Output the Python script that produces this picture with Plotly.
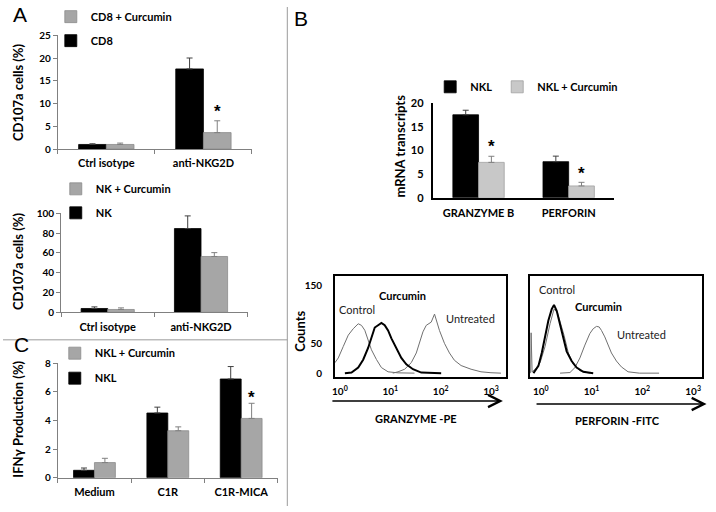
import plotly.graph_objects as go

W, H = 716, 512

# ---------------- data ----------------
a1_cats = ["Ctrl isotype", "anti-NKG2D"]
a1_cd8 = [1.0, 17.6]
a1_cd8_err = [0.15, 2.4]
a1_cur = [1.0, 3.6]
a1_cur_err = [0.3, 2.6]

a2_cats = ["Ctrl isotype", "anti-NKG2D"]
a2_nk = [3.9, 84.6]
a2_nk_err = [1.6, 12.8]
a2_cur = [2.9, 56.4]
a2_cur_err = [1.6, 3.9]

c_cats = ["Medium", "C1R", "C1R-MICA"]
c_nkl = [0.52, 4.53, 6.91]
c_nkl_err = [0.16, 0.41, 0.87]
c_cur = [1.06, 3.29, 4.15]
c_cur_err = [0.30, 0.27, 1.06]

b_cats = ["GRANZYME B", "PERFORIN"]
b_nkl = [17.6, 7.65]
b_nkl_err = [0.97, 1.18]
b_cur = [7.5, 2.5]
b_cur_err = [1.3, 0.77]

# histograms: log10 fluorescence, counts
gz_ctrl_log = [-0.099, -0.032, 0.067, 0.166, 0.265, 0.364, 0.429, 0.494, 0.56, 0.626, 0.725, 0.824, 0.956, 1.154, 1.48]
gz_ctrl_cnt = [17.8, 26, 45.6, 65, 76, 84.5, 81.7, 73.4, 56.7, 40, 23.4, 9.5, 2.3, 0.5, 0]
gz_cur_log = [0.099, 0.231, 0.364, 0.462, 0.56, 0.626, 0.692, 0.758, 0.824, 0.889, 0.956, 1.022, 1.12, 1.219, 1.318, 1.45, 1.615, 1.81, 2.01]
gz_cur_cnt = [0, 1, 9.5, 23, 43, 62, 78, 82, 86, 82, 73, 59.5, 43, 26, 15, 6.7, 1, 0, 0]
gz_unt_log = [1.05, 1.154, 1.285, 1.417, 1.516, 1.581, 1.648, 1.713, 1.812, 1.878, 1.911, 1.976, 2.075, 2.174, 2.273, 2.405, 2.603, 2.8, 2.998, 3.196]
gz_unt_cnt = [0, 2.3, 6.7, 18, 34.5, 51, 70.6, 81.7, 87.3, 101, 90, 73, 51, 34.5, 22, 13, 6.7, 2.3, 0.7, 0]

pf_ctrl_log = [-0.2, -0.19, -0.17, -0.111, -0.013, 0.085, 0.183, 0.261, 0.327, 0.379, 0.458, 0.543, 0.641, 0.771, 0.967]
pf_ctrl_cnt = [0, 69, 2, 6.7, 17.8, 45.6, 84.5, 109.5, 104, 90, 65, 34.5, 15, 4, 0]
pf_cur_log = [-0.144, -0.046, 0.02, 0.085, 0.15, 0.216, 0.261, 0.314, 0.379, 0.444, 0.51, 0.608, 0.706, 0.837, 1.033]
pf_cur_cnt = [0, 12.3, 34.5, 62, 90, 109.5, 116.7, 106.7, 84.5, 59.5, 37.3, 20.7, 9.5, 2.3, 0]
pf_unt_log = [0.38, 0.575, 0.673, 0.771, 0.869, 0.967, 1.033, 1.098, 1.15, 1.196, 1.261, 1.327, 1.392, 1.49, 1.588, 1.719, 1.941, 2.33]
pf_unt_cnt = [0, 1, 9.5, 26, 48, 67.8, 76, 80, 79, 73, 62, 48, 34.5, 20.7, 10.7, 2.3, 0, 0]

hist_ticks = [0, 50, 150]
decade_vals = [1, 10, 100, 1000]
decade_text = ["10<sup>0</sup>", "10<sup>1</sup>", "10<sup>2</sup>", "10<sup>3</sup>"]

# ---------------- style ----------------
FONT = "Lato"
BLACK = "#000000"
GRAY = "#a6a6a6"
LGRAY = "#c8c8c8"


def px(x):
    return x / W


def py(y):
    return 1 - y / H


fig = go.Figure()


def bars(x, y, err, name, color, xa, ya, leg, group, rank, ecolor, line=None):
    fig.add_trace(go.Bar(
        x=x, y=y, name=name, xaxis=xa, yaxis=ya, legend=leg, legendgroup=group,
        legendrank=rank, offsetgroup=group[-1],
        marker=dict(color=color, line=dict(color=line or color, width=0.8)),
        error_y=dict(type="data", array=err, arrayminus=[0] * len(err), symmetric=False,
                     color=ecolor, thickness=1, width=3),
    ))


bars(a1_cats, a1_cd8, a1_cd8_err, "CD8", BLACK, "x", "y", "legend", "a1k", 2, "#404040")
bars(a1_cats, a1_cur, a1_cur_err, "CD8 + Curcumin", GRAY, "x", "y", "legend", "a1g", 1, "#808080", "#8c8c8c")
bars(a2_cats, a2_nk, a2_nk_err, "NK", BLACK, "x2", "y2", "legend2", "a2k", 2, "#404040")
bars(a2_cats, a2_cur, a2_cur_err, "NK + Curcumin", GRAY, "x2", "y2", "legend2", "a2g", 1, "#808080", "#8c8c8c")
bars(c_cats, c_nkl, c_nkl_err, "NKL", BLACK, "x3", "y3", "legend3", "c_k", 2, "#404040")
bars(c_cats, c_cur, c_cur_err, "NKL + Curcumin", GRAY, "x3", "y3", "legend3", "c_g", 1, "#808080", "#8c8c8c")
bars(b_cats, b_nkl, b_nkl_err, "NKL", BLACK, "x4", "y4", "legend4", "b_k", 1, "#404040")
bars(b_cats, b_cur, b_cur_err, "NKL + Curcumin", LGRAY, "x4", "y4", "legend4", "b_g", 2, "#808080", "#a0a0a0")


def hist(logs, cnts, color, width, xa, ya):
    fig.add_trace(go.Scatter(
        x=[10 ** v for v in logs], y=cnts, mode="lines", xaxis=xa, yaxis=ya,
        line=dict(color=color, width=width, shape="linear"), showlegend=False,
        hoverinfo="skip",
    ))


hist(gz_ctrl_log, gz_ctrl_cnt, "#707070", 1, "x5", "y5")
hist(gz_unt_log, gz_unt_cnt, "#707070", 1, "x5", "y5")
hist(gz_cur_log, gz_cur_cnt, BLACK, 2, "x5", "y5")
hist(pf_unt_log, pf_unt_cnt, "#707070", 1, "x6", "y6")
hist(pf_ctrl_log, pf_ctrl_cnt, "#707070", 1, "x6", "y6")
hist(pf_cur_log, pf_cur_cnt, BLACK, 2, "x6", "y6")

tickfont = dict(family=FONT, size=10, color="black", weight="bold")
labfont = dict(family=FONT, size=11, color="black", weight="bold")


def bar_x(dom, anchor):
    return dict(domain=dom, anchor=anchor, type="category", showline=True, linecolor="#808080", linewidth=1,
                ticks="outside", ticklen=4, tickcolor="#808080", tickson="boundaries",
                tickfont=labfont, ticklabelstandoff=4, showgrid=False, zeroline=False, fixedrange=True)


def bar_y(dom, anchor, rng, dtick):
    return dict(domain=dom, anchor=anchor, range=rng, dtick=dtick, showline=True, linecolor="#808080", linewidth=1,
                ticks="outside", ticklen=4, tickcolor="#808080", tickfont=tickfont,
                showgrid=False, zeroline=False, fixedrange=True)


layout = dict(
    width=W, height=H, autosize=False,
    margin=dict(l=0, r=0, t=0, b=0),
    paper_bgcolor="white", plot_bgcolor="white",
    barmode="group", bargap=0.43, bargroupgap=0,
    showlegend=True,
    xaxis=bar_x([px(55), px(250)], "y"),
    yaxis=bar_y([py(145.7), py(29)], "x", [0, 25], 5),
    xaxis2=bar_x([px(58.3), px(245.7)], "y2"),
    yaxis2=bar_y([py(313.3), py(211.7)], "x2", [0, 100], 20),
    xaxis3=bar_x([px(55), px(276)], "y3"),
    yaxis3=bar_y([py(483), py(365.7)], "x3", [0, 8], 2),
    xaxis4=dict(domain=[px(432.3), px(613.3)], anchor="y4", type="category", showline=True, linecolor="black",
                linewidth=1.5, ticks="", tickfont=labfont, ticklabelstandoff=4, showgrid=False,
                zeroline=False, fixedrange=True),
    yaxis4=dict(domain=[py(195.7), py(99)], anchor="x4", range=[0, 20], dtick=5, showline=True, linecolor="black",
                linewidth=1.5, ticks="", tickfont=dict(family=FONT, size=11, color="black", weight="bold"),
                ticklabelstandoff=6, showgrid=False, zeroline=False, fixedrange=True),
    xaxis5=dict(domain=[px(333.3), px(505.3)], anchor="y5", type="log", range=[-0.099, 3.30],
                showline=True, mirror=True, linecolor="black", linewidth=1.5, ticks="",
                tickvals=decade_vals, ticktext=decade_text, tickfont=dict(family=FONT, size=10, color="black", weight="bold"),
                ticklabelstandoff=4, showgrid=False, zeroline=False, fixedrange=True),
    yaxis5=dict(domain=[py(380), py(276)], anchor="x5", range=[-7.2, 166.2], showline=True, mirror=True,
                linecolor="black", linewidth=1.5, ticks="", tickvals=hist_ticks,
                tickfont=dict(family=FONT, size=10, color="black", weight="bold"), ticklabelstandoff=9,
                showgrid=False, zeroline=False, fixedrange=True),
    xaxis6=dict(domain=[px(529.3), px(701.7)], anchor="y6", type="log", range=[-0.21, 3.17],
                showline=True, mirror=True, linecolor="black", linewidth=1.5, ticks="",
                tickvals=decade_vals, ticktext=decade_text, tickfont=dict(family=FONT, size=10, color="black", weight="bold"),
                ticklabelstandoff=4, showgrid=False, zeroline=False, fixedrange=True),
    yaxis6=dict(domain=[py(380), py(276)], anchor="x6", range=[-7.2, 166.2], showline=True, mirror=True,
                linecolor="black", linewidth=1.5, ticks="", showticklabels=False,
                showgrid=False, zeroline=False, fixedrange=True),
)

legfont = dict(family=FONT, size=11, color="black", weight="bold")
layout["legend"] = dict(x=px(48), y=py(-5), xanchor="left", yanchor="top", font=legfont,
                        traceorder="grouped", tracegroupgap=5, bgcolor="rgba(0,0,0,0)")
layout["legend2"] = dict(x=px(53), y=py(171.7), xanchor="left", yanchor="top", font=legfont,
                         traceorder="grouped", tracegroupgap=5, bgcolor="rgba(0,0,0,0)")
layout["legend3"] = dict(x=px(52), y=py(340.3), xanchor="left", yanchor="top", font=legfont,
                         traceorder="grouped", tracegroupgap=6, bgcolor="rgba(0,0,0,0)")
layout["legend4"] = dict(x=px(429), y=py(67), xanchor="left", yanchor="top", font=legfont,
                         orientation="h", traceorder="normal", bgcolor="rgba(0,0,0,0)")

fig.update_layout(**layout)

# separators
fig.add_shape(type="line", xref="paper", yref="paper", x0=px(285.5), x1=px(285.5), y0=0, y1=1,
              line=dict(color="#9a9a9a", width=1))
fig.add_shape(type="line", xref="paper", yref="paper", x0=0, x1=px(285.5), y0=py(341.5), y1=py(341.5),
              line=dict(color="#9a9a9a", width=1))

ann = []
# panel letters
for t, x, y in [("A", 17.5, 8), ("B", 299, 11.5), ("C", 18.5, 346.5)]:
    ann.append(dict(text=t, x=px(x), y=py(y), xref="paper", yref="paper", showarrow=False,
                    font=dict(family="Liberation Sans", size=21, color="black"), xanchor="center", yanchor="middle"))

# axis titles
ytitle = dict(family=FONT, size=13, color="black", weight="bold")
for t, x, y in [("CD107a cells (%)", 15, 87.3), ("CD107a cells (%)", 15, 260.8),
                ("IFNγ Production (%)", 15, 422.5), ("mRNA transcripts", 398.3, 142.5),
                ("Counts", 298, 332.5)]:
    ann.append(dict(text=t, x=px(x), y=py(y), xref="paper", yref="paper", showarrow=False,
                    textangle=-90, font=ytitle, xanchor="center", yanchor="middle"))

star = dict(family="Liberation Sans", size=17, color="black", weight="bold")
ann.append(dict(text="*", x="anti-NKG2D", y=8.26, xref="x", yref="y", xshift=14, showarrow=False, font=star,
                xanchor="center"))
ann.append(dict(text="*", x="C1R-MICA", y=5.6, xref="x3", yref="y3", xshift=10, showarrow=False, font=star,
                xanchor="center"))
ann.append(dict(text="*", x="GRANZYME B", y=10.9, xref="x4", yref="y4", xshift=13, showarrow=False, font=star,
                xanchor="center"))
ann.append(dict(text="*", x="PERFORIN", y=5.17, xref="x4", yref="y4", xshift=13, showarrow=False, font=star,
                xanchor="center"))

reg = dict(family=FONT, size=11, color="#222222")
bold = dict(family=FONT, size=11, color="black", weight="bold")
for t, x, y, ax, fnt in [("Curcumin", 1.239, 133.3, "5", bold), ("Control", 0.33, 109.5, "5", reg),
                         ("Untreated", 2.583, 92.8, "5", reg), ("Control", 0.327, 142.8, "6", reg),
                         ("Curcumin", 1.131, 114, "6", bold), ("Untreated", 1.975, 66.2, "6", reg)]:
    ann.append(dict(text=t, x=x, y=y, xref="x" + ax, yref="y" + ax, showarrow=False, font=fnt,
                    xanchor="center", yanchor="middle"))

# flow axis arrows and labels
for x0, x1, yy, lab, lx, ly in [(330, 502, 404.3, "GRANZYME -PE", 415, 416.7),
                                (535, 706.5, 407.3, "PERFORIN -FITC", 616.7, 418.3)]:
    ann.append(dict(text="", x=px(x1), y=py(yy), xref="paper", yref="paper", ax=-(x1 - x0), ay=0,
                    axref="pixel", ayref="pixel", showarrow=True, arrowhead=5, arrowsize=1.6,
                    arrowwidth=1.5, arrowcolor="black"))
    ann.append(dict(text=lab, x=px(lx), y=py(ly + 6), xref="paper", yref="paper", showarrow=False,
                    font=bold, xanchor="center", yanchor="middle"))

fig.update_layout(annotations=ann)
fig.write_html("out.html", config={"displayModeBar": False},
               post_script="document.body.style.margin='0px';document.body.style.overflow='hidden';")
